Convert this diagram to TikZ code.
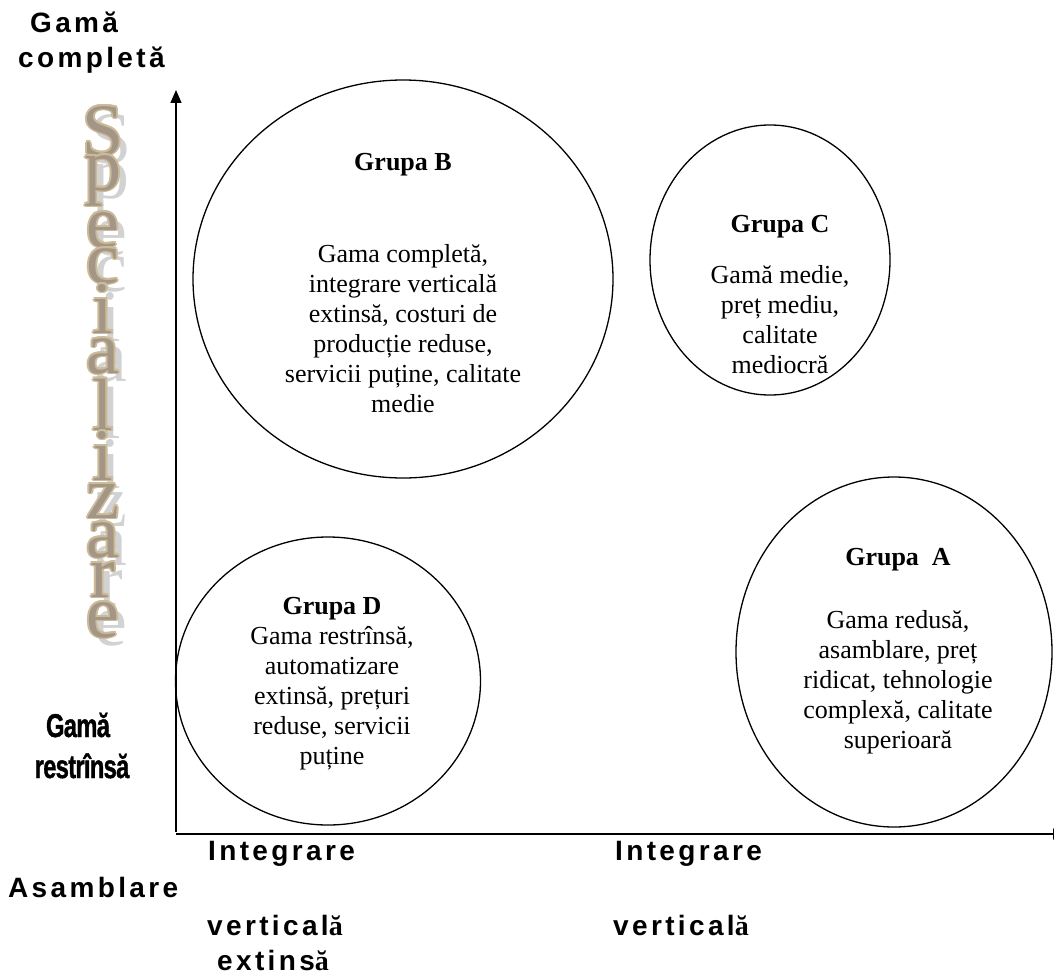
\documentclass[tikz,border=0pt]{standalone}
\usepackage{fontspec}
\usetikzlibrary{arrows.meta,shapes.geometric}
\setmainfont{Liberation Serif}
\newfontfamily\lblfont[LetterSpace=12]{Liberation Sans}
\newfontfamily\narrowfont[LetterSpace=-3,FakeBold=1.2]{Liberation Sans}
\newcommand{\serifa}{{\rmfamily\bfseries ă}}

\definecolor{wtan}{HTML}{CBBB98}
\definecolor{wbody}{HTML}{A49686}
\definecolor{wshade}{HTML}{D2D2D2}

\tikzset{
  axisline/.style={line width=1.5pt, -{Triangle[length=13pt,width=11pt]}},
  grp/.style={draw, ellipse, line width=1.3pt, inner sep=0pt},
  grptitle/.style={font=\fontsize{26}{30}\selectfont\bfseries, anchor=base, inner sep=0pt},
  grpbody/.style={font=\fontsize{26}{30}\selectfont, align=center, anchor=north, inner sep=0pt},
  axlabel/.style={font=\lblfont\bfseries\fontsize{28}{32}\selectfont, anchor=base west, inner sep=0pt},
  narrowlabel/.style={font=\narrowfont\bfseries\fontsize{33}{36}\selectfont, anchor=base, inner sep=0pt},
  wlet/.style={font=\fontsize{74}{74}\selectfont, anchor=base, inner sep=0pt},
}

% vertical WordArt-like letter: grey shadow, tan rim, mottled body
\newcommand{\wordartletter}[2]{%
  \node[wlet, text=wshade] at (111,{#2+8}) {#1};
  \foreach \dx/\dy in {1.8/0,-1.8/0,0/1.8,0/-1.8,1.3/1.3,-1.3/1.3,1.3/-1.3,-1.3/-1.3}
    \node[wlet, text=wtan] at ({103+\dx},{#2+\dy}) {#1};
  \node[wlet, text=wbody] at (103,#2) {#1};
}

\begin{document}
\begin{tikzpicture}[x=1pt,y=-1pt]
\useasboundingbox (0,0) rectangle (1054,979);

% axis labels, top left
\node[axlabel] (gc1) at (30,33) {Gamă};
\node[axlabel] (gc2) at (18,68) {completă};

% vertical caption
\foreach \l/\y in {S/155,p/190,e/247,c/283,i/333,a/373,l/430,i/480,z/518,a/557,r/597,e/637}
  {\wordartletter{\l}{\y}}

% axes
\coordinate (origin) at (176,834);
\coordinate (ytip) at (176,90);
\coordinate (xtip) at (1066,834);
\coordinate (ybase) at (176,832);
\draw[axisline] (ybase) -- (ytip);
\draw[axisline] (origin) -- (xtip);

% narrow range label
\node[narrowlabel] (gr1) at (78,737) {\scalebox{0.72}[1]{Gamă}};
\node[narrowlabel] (gr2) at (82,778) {\scalebox{0.72}[1]{restrînsă}};

% bottom labels
\node[axlabel] (int1) at (208,860) {Integrare};
\node[axlabel] (asm) at (8,897) {Asamblare};
\node[axlabel] (ver1) at (207,935) {vertical\serifa};
\node[axlabel] (ext1) at (217,970) {extins\serifa};
\node[axlabel] (int2) at (615,860) {Integrare};
\node[axlabel] (ver2) at (613,935) {vertical\serifa};

% group B
\node[grp, minimum width=420pt, minimum height=398pt] (B) at (403,279) {};
\node[grptitle] (Bt) at (403,170) {Grupa B};
\node[grpbody] (Bb) at (403,241) {\strut Gama completă,\\ integrare verticală\\ extinsă, costuri de\\ producție reduse,\\ servicii puține, calitate\\ medie};

% group C
\node[grp, minimum width=240pt, minimum height=270pt] (C) at (770,260) {};
\node[grptitle] (Ct) at (780,232) {Grupa C};
\node[grpbody] (Cb) at (780,262) {\strut Gamă medie,\\ preț mediu,\\ calitate\\ mediocră};

% group D
\node[grp, minimum width=305pt, minimum height=288pt] (D) at (328,681) {};
\node[grptitle] (Dt) at (332,614) {Grupa D};
\node[grpbody] (Db) at (332,623) {\strut Gama restrînsă,\\ automatizare\\ extinsă, prețuri\\ reduse, servicii\\ puține};

% group A
\node[grp, minimum width=316pt, minimum height=350pt] (A) at (894,652) {};
\node[grptitle] (At) at (898,565) {Grupa~~A};
\node[grpbody] (Ab) at (898,607) {\strut Gama redusă,\\ asamblare, preț\\ ridicat, tehnologie\\ complexă, calitate\\ superioară};
\end{tikzpicture}
\end{document}
